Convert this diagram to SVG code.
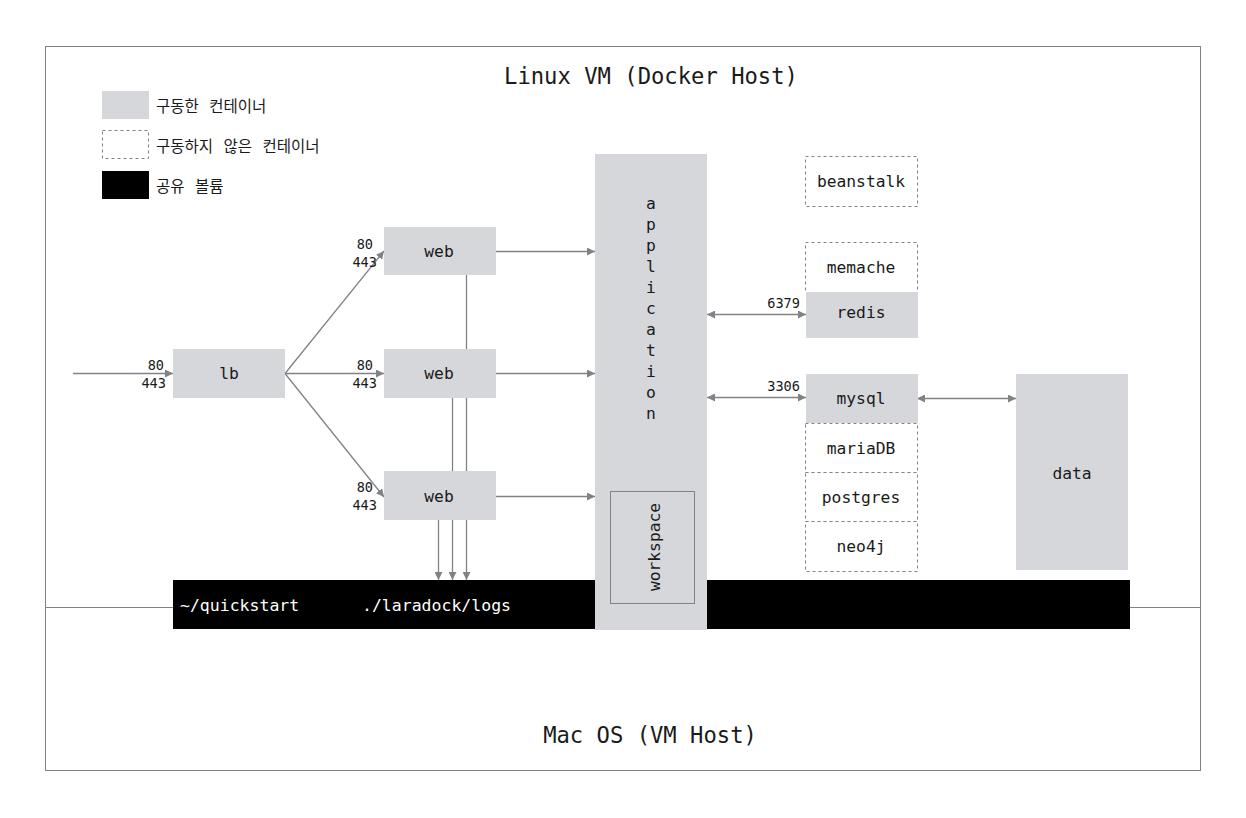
<svg xmlns="http://www.w3.org/2000/svg" width="1246" height="818" viewBox="0 0 1246 818">
<defs>
<marker id="ah" viewBox="0 0 10 10" refX="10" refY="5" markerWidth="8" markerHeight="8" markerUnits="userSpaceOnUse" orient="auto-start-reverse">
<path d="M0,0 L10,5 L0,10 z" fill="#808287"/>
</marker>
<style>
.t{font-family:"DejaVu Sans Mono","Liberation Mono",monospace;fill:#1a1a1a}
.n{font-size:16.3px;text-anchor:middle;dominant-baseline:central}
.p{font-size:13.6px;text-anchor:end}
.k{font-family:"Noto Sans CJK KR","Noto Sans",sans-serif;font-size:15.5px;fill:#1a1a1a;dominant-baseline:central;word-spacing:7px}
.on{fill:#d6d7db}
.off{fill:#ffffff;stroke:#808287;stroke-width:1;stroke-dasharray:3 3}
.c{stroke:#808287;stroke-width:1.3;fill:none}
.w{fill:#ffffff;font-size:16.5px;dominant-baseline:central}
</style>
</defs>
<rect width="1246" height="818" fill="#ffffff"/>
<rect x="45.5" y="46.5" width="1155" height="724" fill="none" stroke="#808287" stroke-width="1"/>
<line x1="45" y1="607.5" x2="1200" y2="607.5" stroke="#808287" stroke-width="1"/>
<text class="t" x="651" y="84" font-size="22.2" text-anchor="middle">Linux VM (Docker Host)</text>
<text class="t" x="650" y="743" font-size="22.2" text-anchor="middle">Mac OS (VM Host)</text>

<g id="legend">
<rect class="on" x="102" y="91" width="47" height="28"/>
<text class="k" x="156" y="105">구동한 컨테이너</text>
<rect class="off" x="102.5" y="130.5" width="46" height="28"/>
<text class="k" x="156" y="145">구동하지 않은 컨테이너</text>
<rect x="102" y="171" width="47" height="28" fill="#000"/>
<text class="k" x="156" y="185">공유 볼륨</text>
</g>

<g id="volume">
<rect x="173" y="580" width="957" height="49" fill="#000"/>
<text class="t w" x="180" y="605">~/quickstart</text>
<text class="t w" x="362" y="605">./laradock/logs</text>
</g>

<g id="connectors">
<line class="c" x1="73" y1="373.5" x2="173" y2="373.5" marker-end="url(#ah)"/>
<line class="c" x1="285" y1="373.5" x2="384" y2="251" marker-end="url(#ah)"/>
<line class="c" x1="285" y1="373.5" x2="384" y2="373.5" marker-end="url(#ah)"/>
<line class="c" x1="285" y1="373.5" x2="384" y2="497" marker-end="url(#ah)"/>
<line class="c" x1="496" y1="251.5" x2="595" y2="251.5" marker-end="url(#ah)"/>
<line class="c" x1="496" y1="373.5" x2="595" y2="373.5" marker-end="url(#ah)"/>
<line class="c" x1="496" y1="496.5" x2="595" y2="496.5" marker-end="url(#ah)"/>
<line class="c" x1="466.5" y1="275" x2="466.5" y2="580" marker-end="url(#ah)"/>
<line class="c" x1="452.5" y1="398" x2="452.5" y2="580" marker-end="url(#ah)"/>
<line class="c" x1="438.5" y1="520" x2="438.5" y2="580" marker-end="url(#ah)"/>
<line class="c" x1="707" y1="314.5" x2="806" y2="314.5" marker-start="url(#ah)" marker-end="url(#ah)"/>
<line class="c" x1="707" y1="397.5" x2="806" y2="397.5" marker-start="url(#ah)" marker-end="url(#ah)"/>
<line class="c" x1="917" y1="398.5" x2="1016" y2="398.5" marker-start="url(#ah)" marker-end="url(#ah)"/>
<text class="t p" x="164" y="370">80</text>
<text class="t p" x="166" y="388">443</text>
<text class="t p" x="373" y="249">80</text>
<text class="t p" x="377" y="267">443</text>
<text class="t p" x="373" y="370">80</text>
<text class="t p" x="377" y="388">443</text>
<text class="t p" x="373" y="492">80</text>
<text class="t p" x="377" y="510">443</text>
<text class="t p" x="800" y="308">6379</text>
<text class="t p" x="800" y="391">3306</text>
</g>

<g id="lb"><rect class="on" x="173" y="349" width="112" height="49"/><text class="t n" x="229" y="373">lb</text></g>
<g id="web1"><rect class="on" x="384" y="227" width="112" height="48"/><text class="t n" x="439" y="251">web</text></g>
<g id="web2"><rect class="on" x="384" y="349" width="112" height="49"/><text class="t n" x="439" y="373">web</text></g>
<g id="web3"><rect class="on" x="384" y="471" width="112" height="49"/><text class="t n" x="439" y="496">web</text></g>

<g id="application">
<rect class="on" x="595" y="154" width="112" height="476"/>
<text class="t n" x="651" y="203">a</text>
<text class="t n" x="651" y="224">p</text>
<text class="t n" x="651" y="245">p</text>
<text class="t n" x="651" y="266">l</text>
<text class="t n" x="651" y="287">i</text>
<text class="t n" x="651" y="308">c</text>
<text class="t n" x="651" y="329">a</text>
<text class="t n" x="651" y="350">t</text>
<text class="t n" x="651" y="371">i</text>
<text class="t n" x="651" y="392">o</text>
<text class="t n" x="651" y="413">n</text>
</g>
<g id="workspace">
<rect x="610.5" y="491.5" width="84" height="112" fill="#d6d7db" stroke="#808287" stroke-width="1"/>
<text class="t n" transform="translate(654 547) rotate(-90)">workspace</text>
</g>

<g id="beanstalk"><rect class="off" x="805.5" y="156.5" width="112" height="50"/><text class="t n" x="861" y="181">beanstalk</text></g>
<g id="memache"><rect class="off" x="805.5" y="242.5" width="112" height="50"/><text class="t n" x="861" y="267">memache</text></g>
<g id="redis"><rect class="on" x="806" y="292" width="112" height="46"/><text class="t n" x="861" y="312">redis</text></g>
<g id="mysql"><rect class="on" x="806" y="374" width="112" height="49"/><text class="t n" x="861" y="398">mysql</text></g>
<g id="mariaDB"><rect class="off" x="805.5" y="423.5" width="112" height="49"/><text class="t n" x="861" y="448">mariaDB</text></g>
<g id="postgres"><rect class="off" x="805.5" y="472.5" width="112" height="49"/><text class="t n" x="861" y="497">postgres</text></g>
<g id="neo4j"><rect class="off" x="805.5" y="521.5" width="112" height="50"/><text class="t n" x="861" y="546">neo4j</text></g>
<g id="data"><rect class="on" x="1016" y="374" width="112" height="196"/><text class="t n" x="1072" y="473">data</text></g>
</svg>
